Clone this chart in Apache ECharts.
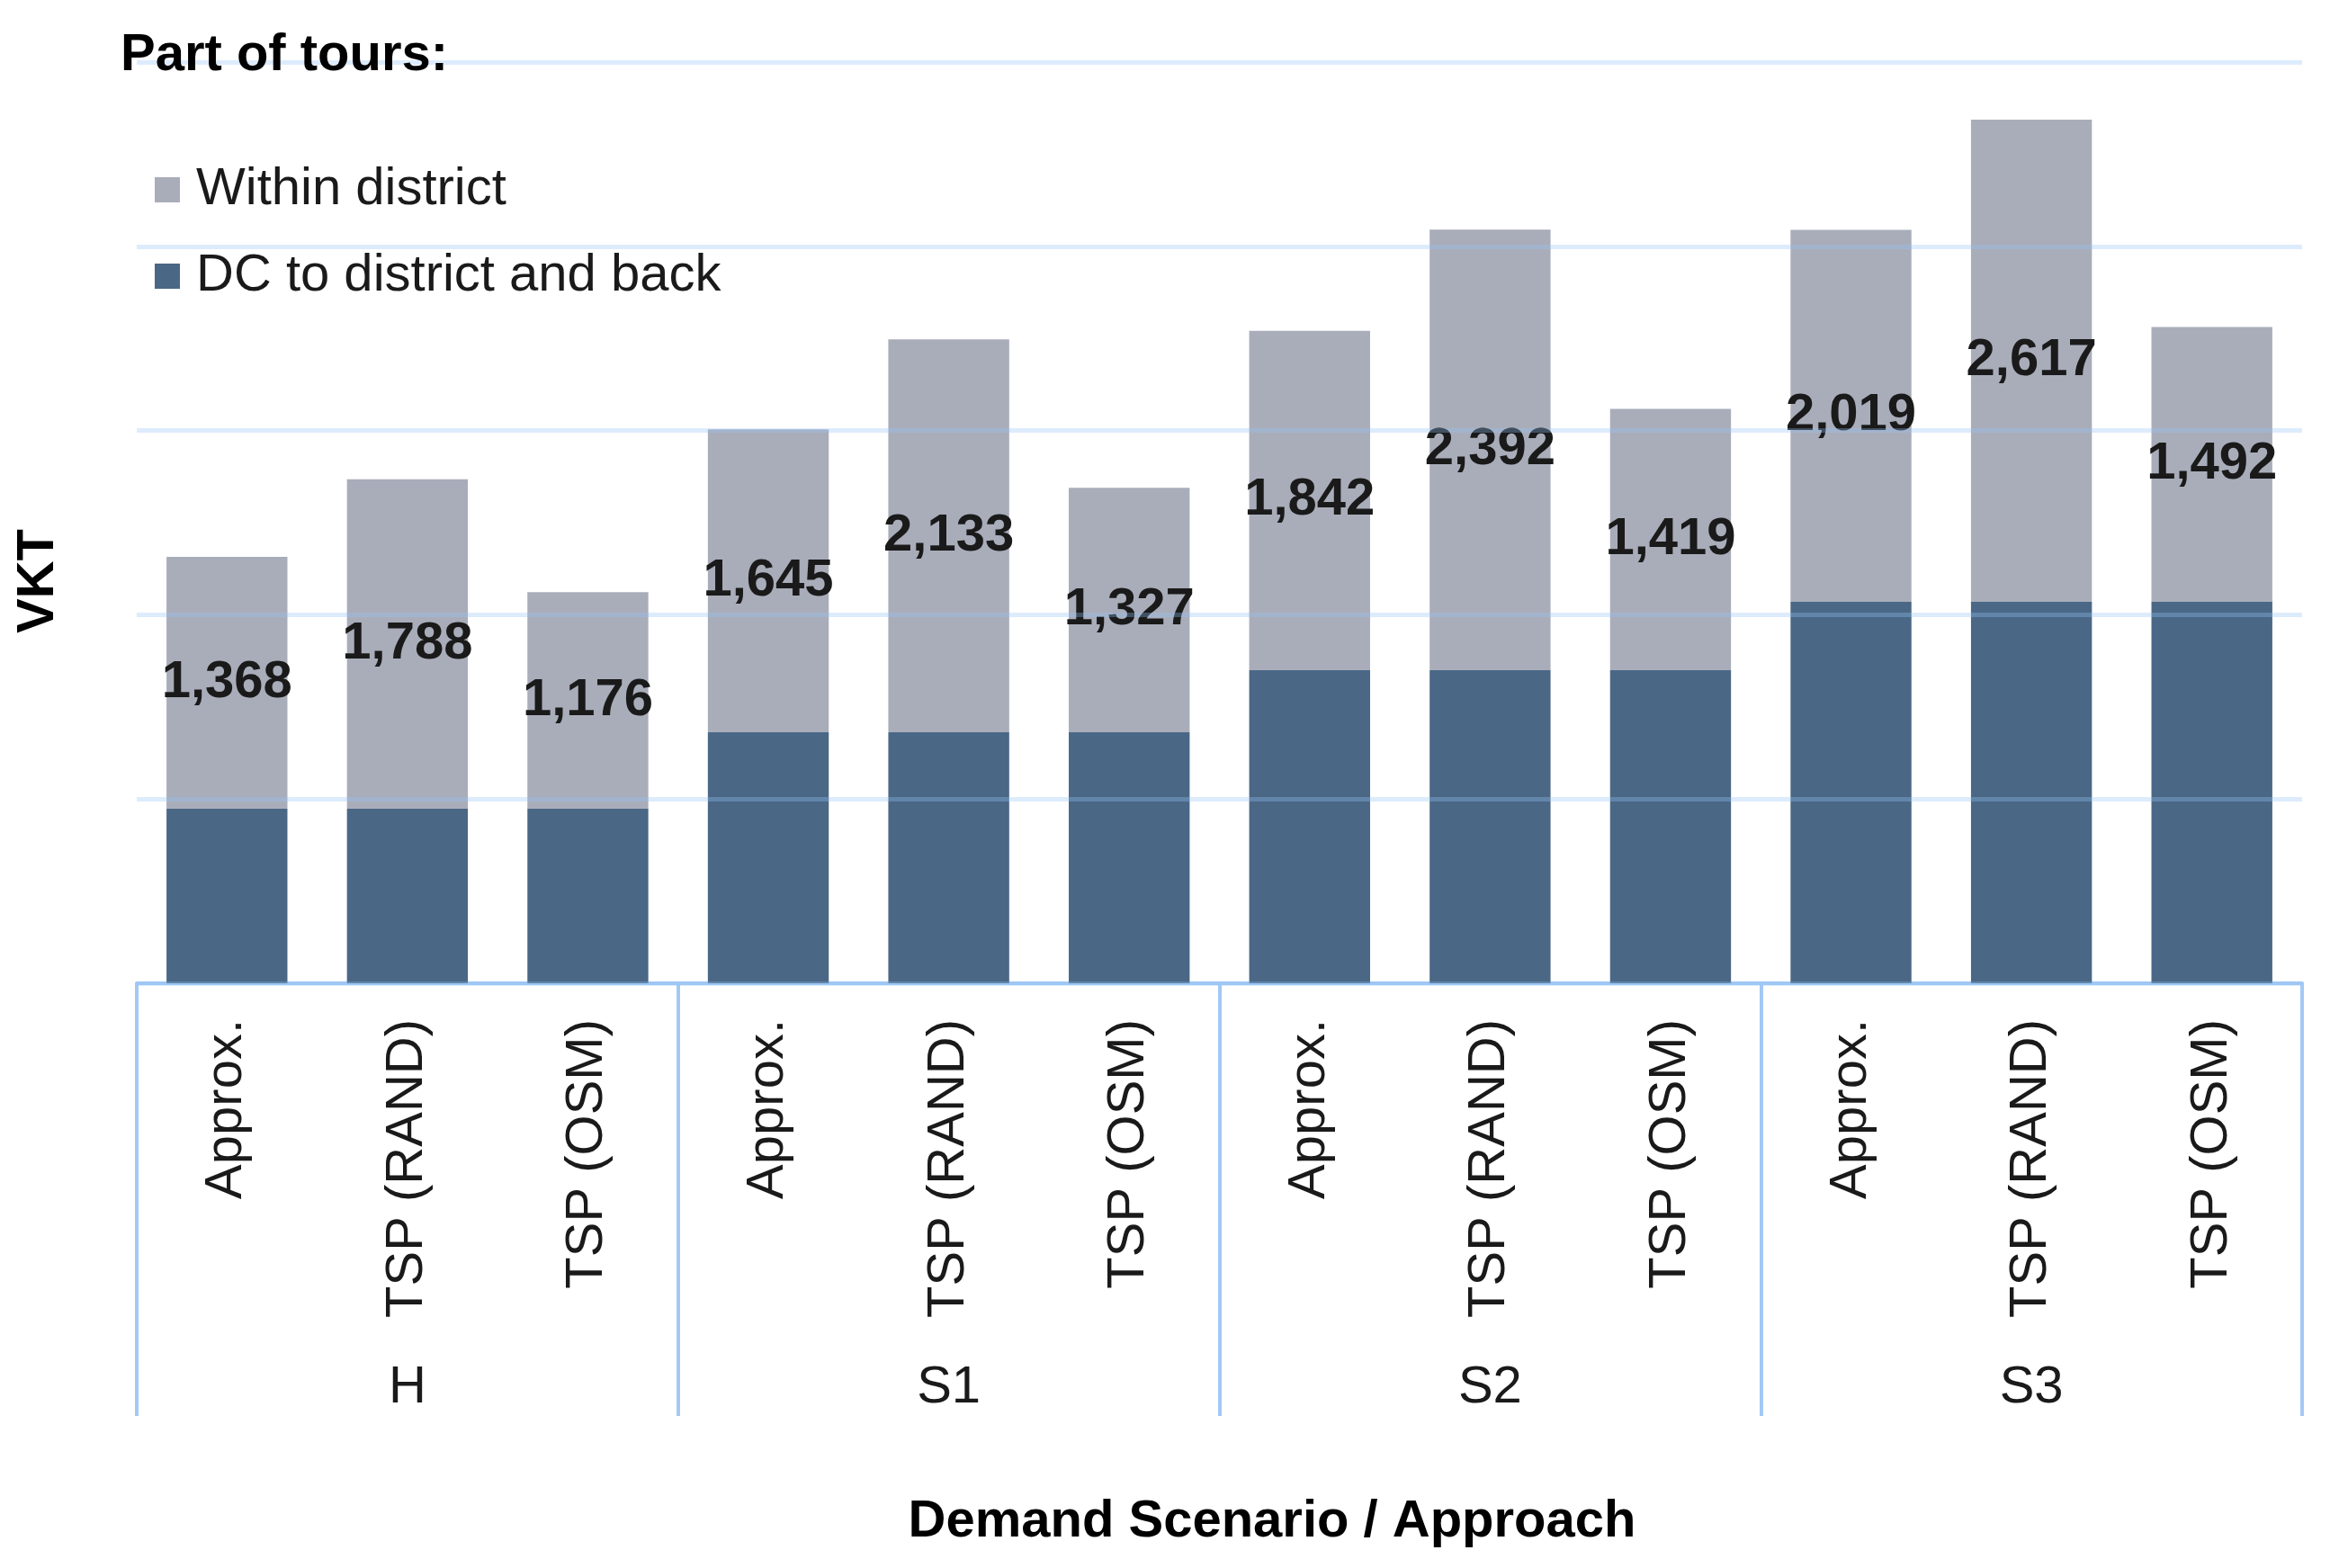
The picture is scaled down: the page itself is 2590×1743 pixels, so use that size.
<!DOCTYPE html>
<html>
<head>
<meta charset="utf-8">
<script src="https://cdn.jsdelivr.net/npm/echarts@6/dist/echarts.min.js"></script>
<style>
html,body{margin:0;padding:0;background:#fff;}
#chart{width:2590px;height:1743px;}
</style>
</head>
<body>
<div id="chart"></div>
<script>
// ---- data ----
const approaches = ['Approx.', 'TSP (RAND)', 'TSP (OSM)'];
const scenarios = ['H', 'S1', 'S2', 'S3'];
const categories = [
  'Approx.', 'TSP (RAND)', 'TSP (OSM)',
  'Approx.', 'TSP (RAND)', 'TSP (OSM)',
  'Approx.', 'TSP (RAND)', 'TSP (OSM)',
  'Approx.', 'TSP (RAND)', 'TSP (OSM)'
];
const dcToDistrict = [947, 947, 947, 1362, 1362, 1362, 1699, 1699, 1699, 2070, 2070, 2070];
const withinDistrict = [1368, 1788, 1176, 1645, 2133, 1327, 1842, 2392, 1419, 2019, 2617, 1492];
const seriesNames = ['Within district', 'DC to district and back'];
const yTicks = [0, 1000, 2000, 3000, 4000, 5000];

const FONT = "'Liberation Sans', Arial, sans-serif";
const axisBlue = '#A3C9F5';

const chart = echarts.init(document.getElementById('chart'));
const option = {
  animation: false,
  backgroundColor: '#ffffff',
  textStyle: { fontFamily: FONT },
  title: {
    text: 'Part of tours:',
    left: 134, top: 33,
    padding: 0,
    textStyle: { fontFamily: FONT, fontSize: 58, fontWeight: 'bold', color: '#000' }
  },
  legend: {
    orient: 'vertical',
    left: 172, top: 182,
    padding: 0,
    itemGap: 38,
    itemWidth: 28, itemHeight: 28,
    icon: 'rect',
    data: seriesNames,
    textStyle: { fontFamily: FONT, fontSize: 58, lineHeight: 58, color: '#1a1a1a', padding: [0, 0, 0, 13] }
  },
  grid: { left: 152, right: 31, top: 69, bottom: 650, containLabel: false },
  xAxis: [
    {
      type: 'category',
      position: 'bottom',
      data: categories,
      axisLine: { show: true, lineStyle: { color: axisBlue, width: 4 } },
      axisTick: { show: false },
      axisLabel: { rotate: 90, margin: 40, interval: 0, fontFamily: FONT, fontSize: 58, color: '#1a1a1a' }
    },
    {
      type: 'category',
      position: 'bottom',
      data: scenarios,
      axisLine: { show: false },
      axisTick: { show: true, interval: 0, length: 481, lineStyle: { color: axisBlue, width: 4 } },
      axisLabel: { margin: 421, interval: 0, fontFamily: FONT, fontSize: 58, color: '#1a1a1a' }
    }
  ],
  yAxis: {
    type: 'value',
    min: yTicks[0], max: yTicks[yTicks.length - 1], interval: 1000,
    z: 5,
    axisLine: { show: false },
    axisTick: { show: false },
    axisLabel: { show: false },
    splitLine: { show: true, lineStyle: { color: 'rgba(150,196,246,0.32)', width: 5 } }
  },
  graphic: [
    {
      type: 'text',
      rotation: Math.PI / 2,
      x: 43, y: 646,
      style: { text: 'VKT', fontFamily: FONT, fontSize: 58, fontWeight: 'bold', fill: '#000', textAlign: 'center', textVerticalAlign: 'middle' }
    },
    {
      type: 'text',
      x: 1414, y: 1692,
      style: { text: 'Demand Scenario / Approach', fontFamily: FONT, fontSize: 58, fontWeight: 'bold', fill: '#000', textAlign: 'center', textVerticalAlign: 'middle' }
    }
  ],
  series: [
    {
      name: seriesNames[1],
      type: 'bar',
      stack: 'total',
      xAxisIndex: 0,
      data: dcToDistrict,
      barCategoryGap: '33%',
      itemStyle: { color: '#4A6786' }
    },
    {
      name: seriesNames[0],
      type: 'bar',
      stack: 'total',
      xAxisIndex: 0,
      data: withinDistrict,
      barCategoryGap: '33%',
      itemStyle: { color: '#A9ADBA' },
      label: {
        show: true, position: 'inside',
        fontFamily: FONT, fontSize: 58, fontWeight: 'bold', color: '#1a1a1a',
        formatter: p => p.value.toLocaleString('en-US')
      }
    }
  ]
};
chart.setOption(option);
</script>
</body>
</html>
